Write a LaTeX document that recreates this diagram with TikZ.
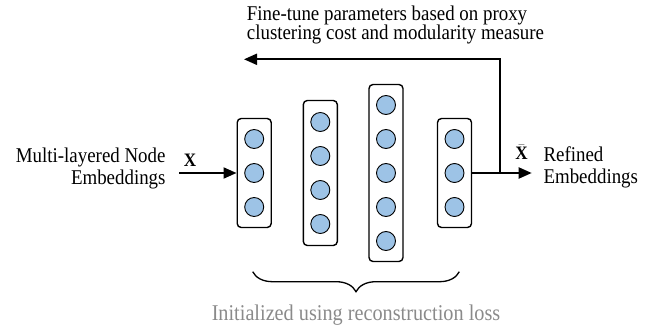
\documentclass[tikz,border=0pt]{standalone}
\usepackage{fontspec}
\setmainfont[FakeStretch=0.9]{Liberation Serif}
\usetikzlibrary{arrows.meta,decorations.pathreplacing}
\definecolor{nodeblue}{HTML}{9DC3E6}
\definecolor{labelgray}{HTML}{8A8A8A}
\begin{document}
\begin{tikzpicture}[x=1pt,y=-1pt,
  layer/.style={draw,line width=1.4pt,rounded corners=4pt,minimum width=34pt,inner sep=0pt},
  unit/.style={circle,draw,line width=0.9pt,fill=nodeblue,minimum size=19pt,inner sep=0pt},
  flow/.style={line width=2pt,line join=miter,-{Triangle[length=13pt,width=11pt]}},
  lbl/.style={font=\fontsize{21}{19}\selectfont,inner sep=0pt},
  sym/.style={font=\fontsize{19}{19}\selectfont\bfseries,inner sep=0pt},
]
\useasboundingbox (0,0) rectangle (671,331);

% layers
\node[layer,minimum height=109pt] (L1) at (254.2,173) {};
\node[layer,minimum height=145pt] (L2) at (320.3,173) {};
\node[layer,minimum height=177pt] (L3) at (386,173) {};
\node[layer,minimum height=109pt] (L4) at (454.5,173) {};

% units
\foreach \j/\y in {1/139,2/173,3/207} {
  \node[unit] (a\j) at (254.2,\y) {};
  \node[unit] (d\j) at (454.5,\y) {};
}
\foreach \j/\y in {1/122,2/156,3/190,4/224}
  \node[unit] (b\j) at (320.3,\y) {};
\foreach \j/\y in {1/105,2/139,3/173,4/207,5/241}
  \node[unit] (c\j) at (386,\y) {};

% connectors
\coordinate (inStart) at (179.3,173);
\coordinate (outEnd) at (531.7,173);
\coordinate (split) at (500,173);
\coordinate (fbEnd) at (244,59.3);
\draw[flow] (inStart) -- (L1.west);
\draw[flow] (L4.east) -- (outEnd);
\draw[flow] (split) |- (fbEnd);

% brace
\coordinate (bl) at (252.7,271.7);
\coordinate (br) at (459.3,271.7);
\draw[line width=1.3pt,decorate,decoration={brace,amplitude=20pt,mirror}] (bl) -- (br);

% labels
\node[lbl,anchor=base west] (t1) at (246.7,20.7) {Fine-tune parameters based on proxy};
\node[lbl,anchor=base west] (t2) at (246.7,40) {clustering cost and modularity measure};
\node[lbl,anchor=base east] (m1) at (165.7,162.5) {Multi-layered Node};
\node[lbl,anchor=base east] (m2) at (165.7,184.5) {Embeddings};
\node[lbl,anchor=base west] (r1) at (543.3,161) {Refined};
\node[lbl,anchor=base west] (r2) at (543.3,183.5) {Embeddings};
\node[sym,anchor=base] (xin) at (190,167) {X};
\node[sym,anchor=base] (xout) at (521.5,159.5) {$\bar{\hbox{\bfseries X}}$};
\node[lbl,text=labelgray,anchor=base,font=\fontsize{22.5}{24}\selectfont] (init) at (356,320) {Initialized using reconstruction loss};
\end{tikzpicture}
\end{document}
